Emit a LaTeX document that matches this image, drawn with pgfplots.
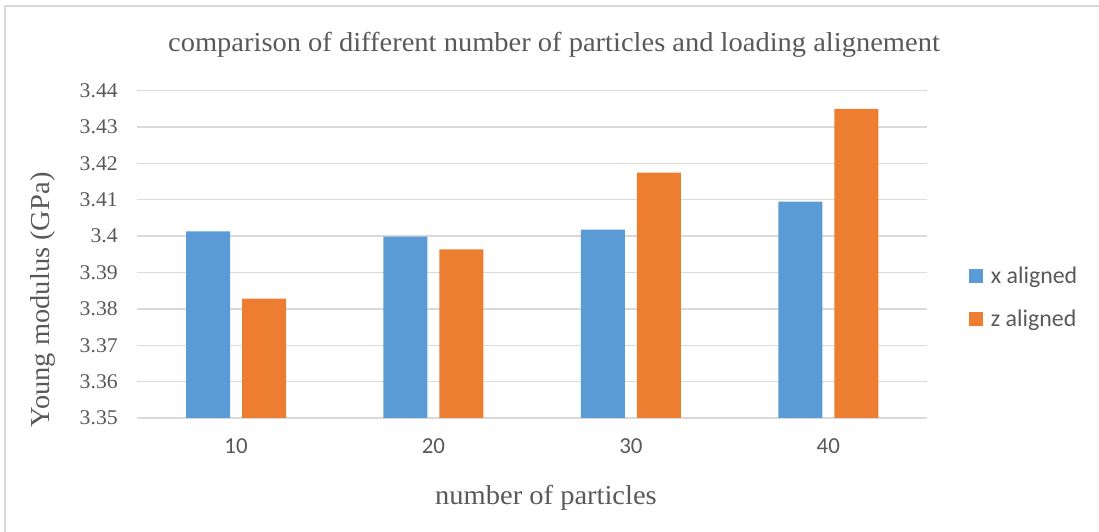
\documentclass[border=0pt]{standalone}
\usepackage{pgfplots}
\pgfplotsset{compat=1.18}
\usepackage{fontspec}
\setmainfont{Liberation Serif}[FakeStretch=1.04]
\newfontfamily\calfont{Carlito}
\definecolor{xblue}{HTML}{5B9BD5}
\definecolor{zorange}{HTML}{ED7D31}
\definecolor{gridc}{HTML}{D9D9D9}
\definecolor{txt}{HTML}{595959}
\begin{document}
\begin{tikzpicture}[x=1bp,y=1bp]
% pixel (px,py) -> (px-137.3, 418-py)
\useasboundingbox (-137.3,-114) rectangle (961.7,418);
\begin{axis}[
  at={(0,0)}, anchor=south west,
  scale only axis, width=789.7bp, height=327.3bp,
  xmin=-0.5, xmax=3.5, ymin=3.35, ymax=3.44,
  xtick=data, xticklabels={10,20,30,40},
  ytick={3.35,3.36,3.37,3.38,3.39,3.40,3.41,3.42,3.43,3.44},
  yticklabels={3.35,3.36,3.37,3.38,3.39,3.4,3.41,3.42,3.43,3.44},
  ybar, bar width=44bp,
  axis line style={draw=none},
  major tick style={draw=none},
  ymajorgrids, grid style={draw=gridc, line width=1.4bp},
  yticklabel style={font=\fontsize{21}{24}\selectfont, text=txt, xshift=-16bp},
  xticklabel style={font=\calfont\fontsize{23}{26}\selectfont, text=txt, yshift=-13bp},
  legend style={draw=none, fill=none, at={(1.053,0.367)}, anchor=west,
    font=\calfont\fontsize{24}{27}\selectfont, text=txt,
    row sep=21bp, inner sep=0pt, outer sep=0pt},
  legend cell align=left,
  legend image code/.code={\fill[#1] (0bp,-7bp) rectangle (14bp,7bp); \path (20bp,0bp);},
  clip=false,
]
\addplot[fill=xblue, draw=none, bar shift=-28bp] coordinates {(0,3.4013) (1,3.3999) (2,3.4018) (3,3.4095)};
\addplot[fill=zorange, draw=none, bar shift=28bp] coordinates {(0,3.3828) (1,3.3964) (2,3.4175) (3,3.4350)};
\legend{x aligned, z aligned}
\end{axis}
\node[anchor=base, text=txt, font=\fontsize{27.5}{30}\selectfont] at (554-137.3, 418-52) {comparison of different number of particles and loading alignement};
\node[anchor=base, text=txt, font=\fontsize{27.5}{30}\selectfont] at (546-137.3, 418-505) {number of particles};
\node[anchor=center, rotate=90, text=txt, font=\fontsize{27.5}{30}\selectfont] at (43-137.3, 418-300) {Young modulus (GPa)};
\draw[gridc, line width=1.2bp] (5-137.3, -114) -- (5-137.3, 418-6) -- (961.7, 418-6);
\end{tikzpicture}
\end{document}
